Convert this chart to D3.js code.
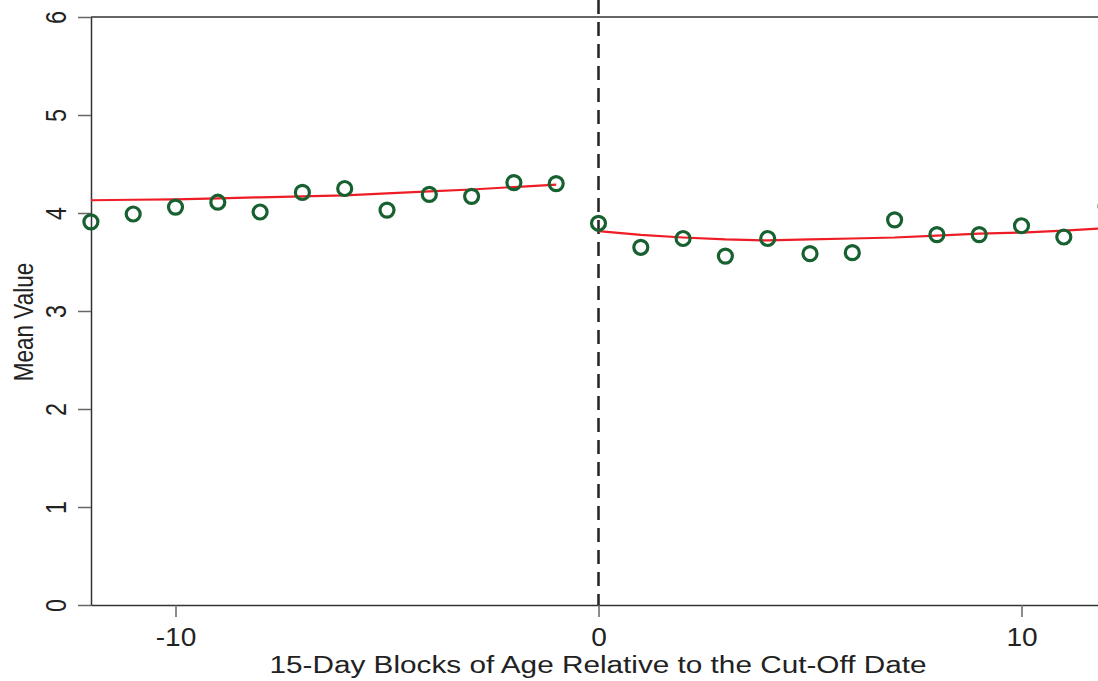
<!DOCTYPE html>
<html><head><meta charset="utf-8">
<script src="https://cdn.jsdelivr.net/npm/d3@7"></script>
<style>body{margin:0;background:#fff;overflow:hidden}svg{display:block}</style>
</head><body>
<svg id="c" width="1098" height="681"></svg>
<script>
// Data
const leftBlocks = [-12,-11,-10,-9,-8,-7,-6,-5,-4,-3,-2,-1];
const leftMeans  = [3.91,3.99,4.06,4.11,4.01,4.21,4.25,4.03,4.19,4.17,4.31,4.30];
const leftFit    = [4.13,4.135,4.14,4.15,4.16,4.17,4.18,4.20,4.22,4.24,4.265,4.29];
const rightBlocks = [0,1,2,3,4,5,6,7,8,9,10,11,12];
const rightMeans  = [3.895,3.65,3.74,3.56,3.74,3.585,3.595,3.93,3.78,3.78,3.87,3.755,4.07];
const rightFit    = [3.816,3.776,3.75,3.73,3.72,3.73,3.74,3.75,3.77,3.79,3.80,3.82,3.845];
const xTicks = [-10,0,10];
const yTicks = [0,1,2,3,4,5,6];
const cutoff = 0;

const svg = d3.select("#c");
const x = d3.scaleLinear().domain([-12,12]).range([90.9,1106.1]);
const y = d3.scaleLinear().domain([0,6]).range([605,17]);
const font = "Liberation Sans, Arial, sans-serif";

svg.append("defs").append("clipPath").attr("id","clip")
  .append("rect").attr("x",0).attr("y",0).attr("width",1098).attr("height",606);

// top border
svg.append("line").attr("x1",91).attr("x2",1098).attr("y1",y(6)).attr("y2",y(6))
  .attr("stroke","#333").attr("stroke-width",1.5);

// y axis
const ya = svg.append("g").attr("transform","translate(91,0)")
  .call(d3.axisLeft(y).tickValues(yTicks).tickSize(13).tickSizeOuter(0).tickFormat(d=>String(d)));
ya.select(".domain").attr("stroke","#333").attr("stroke-width",1.5);
ya.selectAll(".tick line").attr("stroke","#666").attr("stroke-width",1.5);
ya.selectAll(".tick text").attr("font-family",font).attr("font-size",26).attr("fill","#222")
  .attr("x",0).attr("dy",0).attr("y",0).attr("text-anchor","middle")
  .attr("transform","translate(-35,0) rotate(-90) scale(0.9,1.12) translate(0,9)");

// x axis
const xa = svg.append("g").attr("transform","translate(0,605)")
  .call(d3.axisBottom(x).tickValues(xTicks).tickSize(12).tickSizeOuter(0).tickFormat(d=>String(d)));
xa.select(".domain").attr("stroke","#333").attr("stroke-width",1.5);
xa.selectAll(".tick line").attr("stroke","#666").attr("stroke-width",1.5);
xa.selectAll(".tick text").attr("font-family",font).attr("font-size",26).attr("fill","#222")
  .attr("y",0).attr("dy",0).attr("transform","translate(0,41) scale(1.08,1)");

// axis titles
svg.append("text").attr("x",598).attr("y",673).attr("text-anchor","middle")
  .attr("font-family",font).attr("font-size",23).attr("fill","#222")
  .attr("textLength",657).attr("lengthAdjust","spacingAndGlyphs")
  .text("15-Day Blocks of Age Relative to the Cut-Off Date");
svg.append("text").attr("transform","translate(33,322) rotate(-90) scale(1,1.25)").attr("text-anchor","middle")
  .attr("font-family",font).attr("font-size",22.5).attr("fill","#222")
  .text("Mean Value");

const g = svg.append("g").attr("clip-path","url(#clip)");

// cutoff dashed line
g.append("line").attr("x1",x(cutoff)).attr("x2",x(cutoff)).attr("y1",0).attr("y2",605)
  .attr("stroke","#222").attr("stroke-width",2.5).attr("stroke-dasharray","14,8");

const line = d3.line().x(d=>x(d[0])).y(d=>y(d[1]));
g.append("path").datum(leftBlocks.map((b,i)=>[b,leftFit[i]])).attr("d",line)
  .attr("fill","none").attr("stroke","#ee1c25").attr("stroke-width",2.2);
g.append("path").datum(rightBlocks.map((b,i)=>[b,rightFit[i]])).attr("d",line)
  .attr("fill","none").attr("stroke","#ee1c25").attr("stroke-width",2.2);

const pts = leftBlocks.map((b,i)=>[b,leftMeans[i]]).concat(rightBlocks.map((b,i)=>[b,rightMeans[i]]));
g.selectAll("circle.pt").data(pts).enter().append("circle").attr("class","pt")
  .attr("cx",d=>x(d[0])).attr("cy",d=>y(d[1])).attr("r",7)
  .attr("fill","none").attr("stroke","#17602f").attr("stroke-width",3.2);
</script>
</body></html>
